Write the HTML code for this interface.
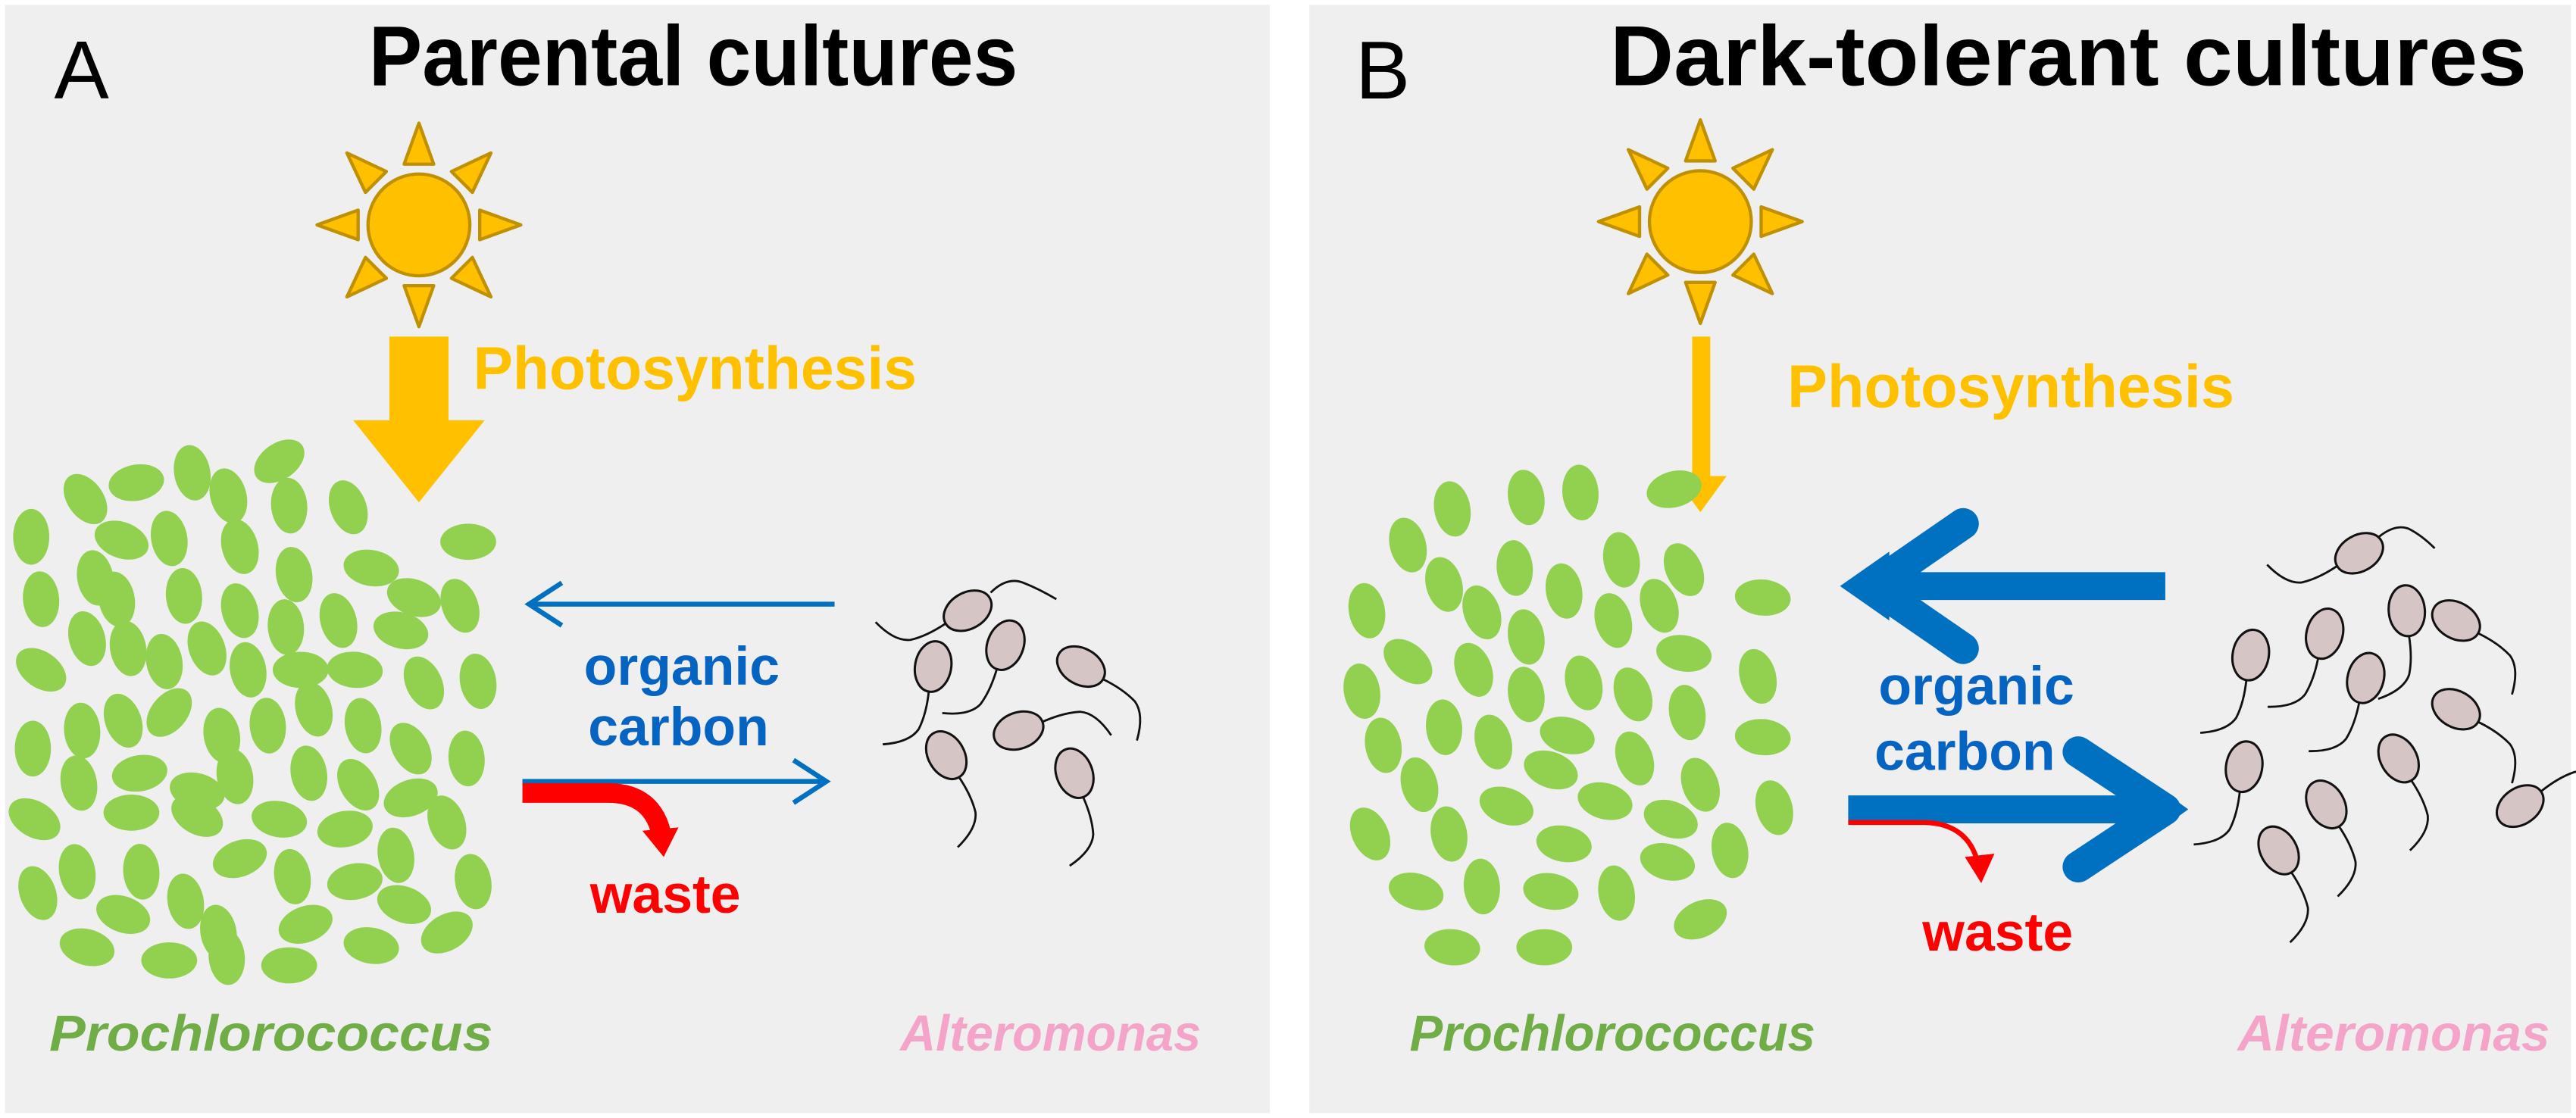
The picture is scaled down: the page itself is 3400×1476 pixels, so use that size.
<!DOCTYPE html>
<html><head><meta charset="utf-8"><style>
html,body{margin:0;padding:0;background:#fff;}
svg{display:block;}
text{font-family:"Liberation Sans",Arial,sans-serif;}
</style></head><body>
<svg width="3400" height="1476" viewBox="0 0 1568 681" preserveAspectRatio="none" xmlns="http://www.w3.org/2000/svg">
<defs>
<g id="sun">
<g fill="#ffc000" stroke="#bf9000" stroke-width="2" stroke-linejoin="round">
<polygon points="-9,-37 9,-37 0,-62"/>
<polygon points="-9,37 9,37 0,62"/>
<polygon points="-37,-9 -37,9 -62,0"/>
<polygon points="37,-9 37,9 62,0"/>
<polygon points="-9,-37 9,-37 0,-62" transform="rotate(45)"/>
<polygon points="-9,-37 9,-37 0,-62" transform="rotate(135)"/>
<polygon points="-9,-37 9,-37 0,-62" transform="rotate(225)"/>
<polygon points="-9,-37 9,-37 0,-62" transform="rotate(315)"/>
<circle r="31"/>
</g>
</g>
<g id="bac">
<path d="M0,15 q1,14 -2,24 q-4,9 -20,13" fill="none" stroke="#111" stroke-width="1.3"/>
<ellipse rx="11" ry="15.5" fill="#d6c5c5" stroke="#111" stroke-width="1.4"/>
</g>
<ellipse id="g" rx="17" ry="11" fill="#92d050"/>
</defs>
<rect x="3" y="3" width="770" height="675" fill="#efefef"/>
<rect x="797" y="3" width="768" height="675" fill="#efefef"/>

<!-- Panel A -->
<text x="33" y="60" font-size="50" fill="#000">A</text>
<text x="422" y="52" font-size="52" font-weight="bold" text-anchor="middle" fill="#000" textLength="395" lengthAdjust="spacingAndGlyphs">Parental cultures</text>
<use href="#sun" x="255" y="137"/>
<polygon points="237,205 273,205 273,256 295,256 255,306 215,256 237,256" fill="#ffc000"/>
<text x="288" y="237" font-size="37" font-weight="bold" fill="#ffc000" textLength="270" lengthAdjust="spacingAndGlyphs">Photosynthesis</text>

<g>
<use href="#g" transform="translate(52,304) rotate(55)"/>
<use href="#g" transform="translate(83,294) rotate(-10)"/>
<use href="#g" transform="translate(117,288) rotate(80)"/>
<use href="#g" transform="translate(139,302) rotate(75)"/>
<use href="#g" transform="translate(170,281) rotate(-35)"/>
<use href="#g" transform="translate(176,308) rotate(85)"/>
<use href="#g" transform="translate(212,309) rotate(70)"/>
<use href="#g" transform="translate(19,327) rotate(90)"/>
<use href="#g" transform="translate(74,329) rotate(20)"/>
<use href="#g" transform="translate(103,328) rotate(80)"/>
<use href="#g" transform="translate(146,333) rotate(75)"/>
<use href="#g" transform="translate(285,330) rotate(0)"/>
<use href="#g" transform="translate(58,352) rotate(80)"/>
<use href="#g" transform="translate(25,365) rotate(85)"/>
<use href="#g" transform="translate(71,365) rotate(80)"/>
<use href="#g" transform="translate(112,363) rotate(85)"/>
<use href="#g" transform="translate(179,350) rotate(80)"/>
<use href="#g" transform="translate(226,346) rotate(10)"/>
<use href="#g" transform="translate(252,364) rotate(20)"/>
<use href="#g" transform="translate(280,369) rotate(70)"/>
<use href="#g" transform="translate(146,372) rotate(75)"/>
<use href="#g" transform="translate(174,382) rotate(85)"/>
<use href="#g" transform="translate(206,378) rotate(75)"/>
<use href="#g" transform="translate(244,384) rotate(15)"/>
<use href="#g" transform="translate(53,389) rotate(75)"/>
<use href="#g" transform="translate(78,395) rotate(80)"/>
<use href="#g" transform="translate(100,403) rotate(80)"/>
<use href="#g" transform="translate(126,395) rotate(70)"/>
<use href="#g" transform="translate(151,408) rotate(80)"/>
<use href="#g" transform="translate(183,408) rotate(0)"/>
<use href="#g" transform="translate(216,408) rotate(5)"/>
<use href="#g" transform="translate(258,416) rotate(65)"/>
<use href="#g" transform="translate(291,415) rotate(80)"/>
<use href="#g" transform="translate(25,408) rotate(35)"/>
<use href="#g" transform="translate(20,456) rotate(90)"/>
<use href="#g" transform="translate(50,445) rotate(85)"/>
<use href="#g" transform="translate(75,439) rotate(70)"/>
<use href="#g" transform="translate(103,434) rotate(-50)"/>
<use href="#g" transform="translate(135,448) rotate(80)"/>
<use href="#g" transform="translate(163,442) rotate(85)"/>
<use href="#g" transform="translate(191,432) rotate(75)"/>
<use href="#g" transform="translate(221,442) rotate(80)"/>
<use href="#g" transform="translate(250,456) rotate(60)"/>
<use href="#g" transform="translate(284,462) rotate(85)"/>
<use href="#g" transform="translate(48,477) rotate(80)"/>
<use href="#g" transform="translate(85,471) rotate(-10)"/>
<use href="#g" transform="translate(120,482) rotate(15)"/>
<use href="#g" transform="translate(143,473) rotate(80)"/>
<use href="#g" transform="translate(188,471) rotate(80)"/>
<use href="#g" transform="translate(218,478) rotate(60)"/>
<use href="#g" transform="translate(250,486) rotate(-20)"/>
<use href="#g" transform="translate(21,499) rotate(30)"/>
<use href="#g" transform="translate(80,495) rotate(0)"/>
<use href="#g" transform="translate(120,497) rotate(30)"/>
<use href="#g" transform="translate(170,499) rotate(10)"/>
<use href="#g" transform="translate(210,505) rotate(-10)"/>
<use href="#g" transform="translate(241,521) rotate(80)"/>
<use href="#g" transform="translate(272,501) rotate(70)"/>
<use href="#g" transform="translate(47,531) rotate(80)"/>
<use href="#g" transform="translate(86,531) rotate(85)"/>
<use href="#g" transform="translate(113,549) rotate(80)"/>
<use href="#g" transform="translate(146,523) rotate(-20)"/>
<use href="#g" transform="translate(178,534) rotate(80)"/>
<use href="#g" transform="translate(216,537) rotate(-10)"/>
<use href="#g" transform="translate(246,551) rotate(20)"/>
<use href="#g" transform="translate(288,537) rotate(80)"/>
<use href="#g" transform="translate(23,544) rotate(70)"/>
<use href="#g" transform="translate(75,557) rotate(20)"/>
<use href="#g" transform="translate(133,568) rotate(80)"/>
<use href="#g" transform="translate(186,563) rotate(-20)"/>
<use href="#g" transform="translate(226,576) rotate(10)"/>
<use href="#g" transform="translate(272,568) rotate(-30)"/>
<use href="#g" transform="translate(53,577) rotate(15)"/>
<use href="#g" transform="translate(103,585) rotate(0)"/>
<use href="#g" transform="translate(138,583) rotate(85)"/>
<use href="#g" transform="translate(176,588) rotate(0)"/>
</g>

<g fill="none" stroke="#0070c0" stroke-width="3">
<line x1="508" y1="368" x2="322" y2="368"/>
<polyline points="342,355 322,368 342,381"/>
<line x1="318" y1="476" x2="502" y2="476"/>
<polyline points="483,463 503,476 483,489"/>
</g>
<text x="415" y="417" font-size="33" font-weight="bold" fill="#0563c1" text-anchor="middle">organic</text>
<text x="413" y="454" font-size="33" font-weight="bold" fill="#0563c1" text-anchor="middle">carbon</text>
<path d="M318,483 L370,483 Q398,483 403,510" fill="none" stroke="#ff0000" stroke-width="12"/>
<polygon points="391,506 413,504 404,522" fill="#ff0000"/>
<text x="405" y="556" font-size="33" font-weight="bold" fill="#ff0000" text-anchor="middle">waste</text>

<g>
<use href="#bac" transform="translate(589,372) rotate(60)"/>
<use href="#bac" transform="translate(612,393) rotate(20)"/>
<use href="#bac" transform="translate(658,406) rotate(-60)"/>
<use href="#bac" transform="translate(568,406) rotate(10)"/>
<use href="#bac" transform="translate(620,445) rotate(-110)"/>
<use href="#bac" transform="translate(576,460) rotate(-30)"/>
<use href="#bac" transform="translate(654,471) rotate(-20)"/>
</g>
<path d="M603,361 q10,-10 20,-6 q10,4 20,10" fill="none" stroke="#111" stroke-width="1.3"/>

<text x="30" y="640" font-size="31" font-weight="bold" font-style="italic" fill="#70ad47" textLength="270" lengthAdjust="spacingAndGlyphs">Prochlorococcus</text>
<text x="548" y="640" font-size="31" font-weight="bold" font-style="italic" fill="#f4a4c8" textLength="183" lengthAdjust="spacingAndGlyphs">Alteromonas</text>

<!-- Panel B -->
<text x="825" y="60" font-size="50" fill="#000">B</text>
<text x="1259" y="52" font-size="52" font-weight="bold" text-anchor="middle" fill="#000" textLength="558" lengthAdjust="spacingAndGlyphs">Dark-tolerant cultures</text>
<use href="#sun" x="1035" y="135"/>
<polygon points="1030,205 1041,205 1041,290 1051,290 1035,312 1019,290 1030,290" fill="#ffc000"/>
<text x="1088" y="248" font-size="37" font-weight="bold" fill="#ffc000" textLength="272" lengthAdjust="spacingAndGlyphs">Photosynthesis</text>

<g>
<use href="#g" transform="translate(884,310) rotate(80)"/>
<use href="#g" transform="translate(929,303) rotate(80)"/>
<use href="#g" transform="translate(962,300) rotate(85)"/>
<use href="#g" transform="translate(1019,298) rotate(-15)"/>
<use href="#g" transform="translate(857,332) rotate(75)"/>
<use href="#g" transform="translate(922,346) rotate(85)"/>
<use href="#g" transform="translate(987,341) rotate(80)"/>
<use href="#g" transform="translate(1025,347) rotate(65)"/>
<use href="#g" transform="translate(1073,364) rotate(5)"/>
<use href="#g" transform="translate(832,372) rotate(80)"/>
<use href="#g" transform="translate(879,356) rotate(75)"/>
<use href="#g" transform="translate(902,373) rotate(70)"/>
<use href="#g" transform="translate(952,360) rotate(80)"/>
<use href="#g" transform="translate(982,378) rotate(75)"/>
<use href="#g" transform="translate(1010,369) rotate(70)"/>
<use href="#g" transform="translate(929,388) rotate(80)"/>
<use href="#g" transform="translate(857,403) rotate(40)"/>
<use href="#g" transform="translate(897,408) rotate(70)"/>
<use href="#g" transform="translate(1025,398) rotate(10)"/>
<use href="#g" transform="translate(964,416) rotate(75)"/>
<use href="#g" transform="translate(994,423) rotate(70)"/>
<use href="#g" transform="translate(1070,412) rotate(75)"/>
<use href="#g" transform="translate(829,421) rotate(80)"/>
<use href="#g" transform="translate(929,423) rotate(80)"/>
<use href="#g" transform="translate(879,443) rotate(85)"/>
<use href="#g" transform="translate(909,452) rotate(75)"/>
<use href="#g" transform="translate(954,448) rotate(15)"/>
<use href="#g" transform="translate(1027,434) rotate(80)"/>
<use href="#g" transform="translate(842,454) rotate(80)"/>
<use href="#g" transform="translate(1073,449) rotate(5)"/>
<use href="#g" transform="translate(864,478) rotate(75)"/>
<use href="#g" transform="translate(944,469) rotate(20)"/>
<use href="#g" transform="translate(995,462) rotate(70)"/>
<use href="#g" transform="translate(1035,478) rotate(70)"/>
<use href="#g" transform="translate(917,491) rotate(20)"/>
<use href="#g" transform="translate(977,488) rotate(15)"/>
<use href="#g" transform="translate(1017,499) rotate(20)"/>
<use href="#g" transform="translate(1080,492) rotate(75)"/>
<use href="#g" transform="translate(834,508) rotate(65)"/>
<use href="#g" transform="translate(882,508) rotate(80)"/>
<use href="#g" transform="translate(952,514) rotate(10)"/>
<use href="#g" transform="translate(1053,518) rotate(80)"/>
<use href="#g" transform="translate(862,543) rotate(15)"/>
<use href="#g" transform="translate(902,540) rotate(85)"/>
<use href="#g" transform="translate(944,543) rotate(10)"/>
<use href="#g" transform="translate(984,544) rotate(80)"/>
<use href="#g" transform="translate(1015,525) rotate(15)"/>
<use href="#g" transform="translate(1035,560) rotate(-25)"/>
<use href="#g" transform="translate(884,577) rotate(5)"/>
<use href="#g" transform="translate(940,577) rotate(0)"/>
</g>

<g stroke="#0070c0" fill="none" stroke-linecap="round" stroke-linejoin="round">
<line x1="1318" y1="357" x2="1140" y2="357" stroke-width="17" stroke-linecap="butt"/>
<polyline points="1195,319 1140,357 1195,395" stroke-width="19"/>
<line x1="1125" y1="493" x2="1305" y2="493" stroke-width="17" stroke-linecap="butt"/>
<polyline points="1265,458 1318,493 1265,528" stroke-width="19"/>
</g>
<polygon points="1120,357 1150,336 1150,378" fill="#0070c0"/>
<polygon points="1332,493 1300,470 1300,516" fill="#0070c0"/>
<text x="1203" y="429" font-size="33" font-weight="bold" fill="#0563c1" text-anchor="middle">organic</text>
<text x="1196" y="469" font-size="33" font-weight="bold" fill="#0563c1" text-anchor="middle">carbon</text>
<path d="M1125,501 L1170,501 Q1198,501 1204,526" fill="none" stroke="#ff0000" stroke-width="3"/>
<polygon points="1196,522 1214,520 1206,538" fill="#ff0000"/>
<text x="1216" y="579" font-size="33" font-weight="bold" fill="#ff0000" text-anchor="middle">waste</text>

<g>
<use href="#bac" transform="translate(1436,337) rotate(60)"/>
<use href="#bac" transform="translate(1370,399) rotate(10)"/>
<use href="#bac" transform="translate(1415,386) rotate(15)"/>
<use href="#bac" transform="translate(1465,372) rotate(-5)"/>
<use href="#bac" transform="translate(1495,378) rotate(-60)"/>
<use href="#bac" transform="translate(1440,413) rotate(15)"/>
<use href="#bac" transform="translate(1495,432) rotate(-60)"/>
<use href="#bac" transform="translate(1366,467) rotate(10)"/>
<use href="#bac" transform="translate(1460,462) rotate(-30)"/>
<use href="#bac" transform="translate(1416,490) rotate(-30)"/>
<use href="#bac" transform="translate(1534,491) rotate(-125)"/>
<use href="#bac" transform="translate(1387,518) rotate(-30)"/>
</g>
<path d="M1448,327 q10,-8 18,-5 q8,4 16,12" fill="none" stroke="#111" stroke-width="1.3"/>

<text x="858" y="640" font-size="31" font-weight="bold" font-style="italic" fill="#70ad47" textLength="247" lengthAdjust="spacingAndGlyphs">Prochlorococcus</text>
<text x="1362" y="640" font-size="31" font-weight="bold" font-style="italic" fill="#f4a4c8" textLength="190" lengthAdjust="spacingAndGlyphs">Alteromonas</text>
</svg>
</body></html>
